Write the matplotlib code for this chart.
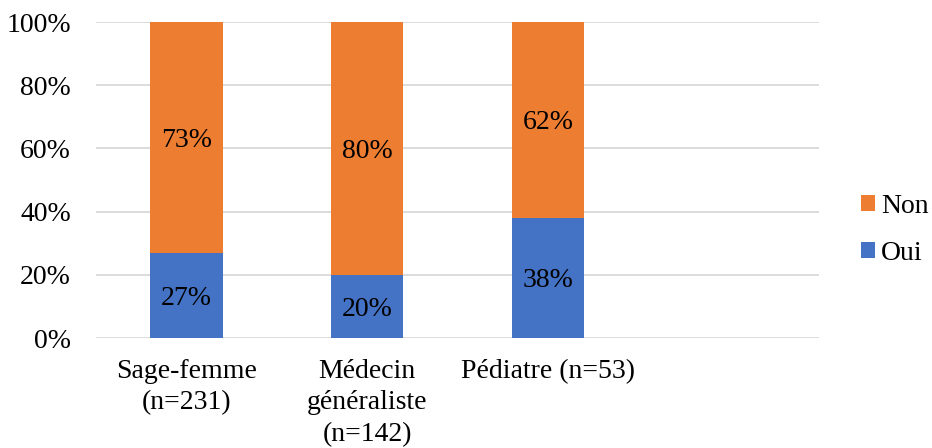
import numpy as np
import matplotlib.pyplot as plt

plt.rcParams['font.family'] = ['Liberation Serif', 'DejaVu Serif']

# Données : répartition Oui / Non par profession
categories = ['Sage-femme\n(n=231)', 'Médecin\ngénéraliste\n(n=142)', 'Pédiatre (n=53)']
oui = [27, 20, 38]
non = [73, 80, 62]

col_oui = '#4472C4'
col_non = '#ED7D31'
fs = 20

fig = plt.figure(figsize=(9.32, 4.48), dpi=100)
ax = fig.add_axes([96 / 932, 1 - 338 / 448, (819 - 96) / 932, (338 - 22) / 448])

x = np.arange(len(categories))
w = 0.4
b1 = ax.bar(x, oui, w, color=col_oui, label='Oui', zorder=3)
b2 = ax.bar(x, non, w, bottom=oui, color=col_non, label='Non', zorder=3)

# Étiquettes de pourcentage au centre de chaque segment
for xi, o, n in zip(x, oui, non):
    ax.text(xi, o / 2, f'{o}%', ha='center', va='center_baseline', fontsize=fs, zorder=4)
    ax.text(xi, o + n / 2, f'{n}%', ha='center', va='center_baseline', fontsize=fs, zorder=4)

ax.set_xlim(-0.5, 3.5)
ax.set_ylim(0, 100)
ax.set_yticks(range(0, 101, 20))
ax.set_yticklabels([f'{v}%' for v in range(0, 101, 20)], fontsize=fs)
ax.set_xticks(x)
ax.set_xticklabels(categories, fontsize=fs, linespacing=1.35)
ax.tick_params(axis='both', length=0)
ax.tick_params(axis='y', pad=18)
ax.tick_params(axis='x', pad=15)

ax.grid(axis='y', color='#D9D9D9', linewidth=1.3, zorder=0)
for s in ax.spines.values():
    s.set_visible(False)

handles = [b2, b1]
fig.legend(handles, ['Non', 'Oui'], loc='center left', bbox_to_anchor=(861 / 932, 1 - 230 / 448),
           frameon=False, fontsize=fs, handlelength=0.5, handleheight=0.5,
           handletextpad=0.22, labelspacing=0.8, borderpad=0, borderaxespad=0)

fig.savefig('out.png', dpi=100)
